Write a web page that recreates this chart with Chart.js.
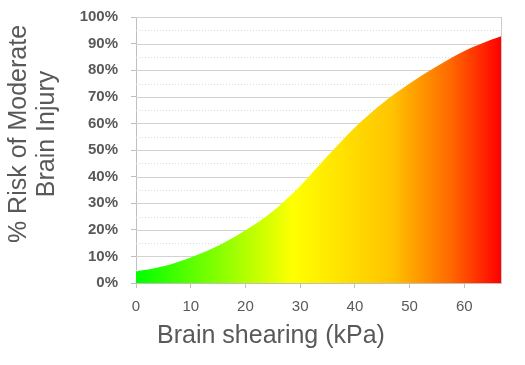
<!DOCTYPE html>
<html>
<head>
<meta charset="utf-8">
<script src="https://cdn.jsdelivr.net/npm/chart.js@4.4.0/dist/chart.umd.min.js"></script>
<style>
  html, body { margin: 0; padding: 0; background: #fff; }
  #wrap { width: 525px; height: 365px; }
</style>
</head>
<body>
<div id="wrap"><canvas id="myChart"></canvas></div>
<script>
// brain shearing (kPa) and risk of moderate brain injury (%)
let shear = [0, 5, 10, 15, 20, 25, 30, 35, 40, 45, 50, 55, 60, 65, 66.7];
let risk = [4.3, 6.3, 9.6, 14, 19.8, 27, 36.5, 47.7, 58.5, 67.5, 75, 81.5, 87.2, 91.5, 92.8];
let yTicks = [0, 10, 20, 30, 40, 50, 60, 70, 80, 90, 100];
let xTicks = [0, 10, 20, 30, 40, 50, 60];

let grey = "#595959";
let fontFamily = "'Liberation Sans', Arial, sans-serif";

let ctx = document.getElementById("myChart").getContext("2d");

// horizontal green -> yellow -> red fill
let makeGradient = (chart) => {
  let area = chart.chartArea;
  if (!area) return "#ff0";
  let g = chart.ctx.createLinearGradient(area.left, 0, area.right, 0);
  g.addColorStop(0, "#00ff00");
  g.addColorStop(0.43, "#ffff00");
  g.addColorStop(0.7, "#ffc400");
  g.addColorStop(0.86, "#ff6a00");
  g.addColorStop(1, "#ff0000");
  return g;
};

// grid lines (solid every 10%, dotted in between), frame, axis titles
let extras = {
  id: "extras",
  beforeDatasetsDraw(chart) {
    let c = chart.ctx;
    let y = chart.scales.y;
    let a = chart.chartArea;
    c.save();
    c.lineWidth = 1;
    for (let v = 5; v <= 100; v += 5) {
      let py = Math.round(y.getPixelForValue(v)) + 0.5;
      let major = v % 10 === 0;
      c.strokeStyle = major ? "#d2d2d2" : "#dddddd";
      c.setLineDash(major ? [] : [1, 2]);
      c.beginPath();
      c.moveTo(a.left, py);
      c.lineTo(a.right, py);
      c.stroke();
    }
    c.restore();
  },
  afterDraw(chart) {
    let c = chart.ctx;
    let a = chart.chartArea;
    c.save();
    c.strokeStyle = "#cccccc";
    c.lineWidth = 1;
    c.beginPath();
    c.moveTo(a.right + 0.5, a.top);
    c.lineTo(a.right + 0.5, a.bottom);
    c.stroke();

    c.fillStyle = grey;
    c.font = "25px " + fontFamily;
    c.textAlign = "center";
    c.textBaseline = "middle";
    c.fillText("Brain shearing (kPa)", 271, 336);

    c.translate(0, 134);
    c.rotate(-Math.PI / 2);
    c.fillText("% Risk of Moderate", 0, 19);
    c.fillText("Brain Injury", 0, 47);
    c.restore();
  },
};

let myChart = new Chart(ctx, {
  type: "line",
  data: {
    datasets: [
      {
        data: shear.map((x, i) => ({ x: x, y: risk[i] })),
        fill: "origin",
        backgroundColor: (context) => makeGradient(context.chart),
        borderWidth: 0,
        pointRadius: 0,
        cubicInterpolationMode: "monotone",
      },
    ],
  },
  options: {
    responsive: true,
    maintainAspectRatio: false,
    animation: false,
    layout: {
      padding: { top: 17, right: 24, left: 0, bottom: 0 },
    },
    plugins: {
      legend: { display: false },
      tooltip: { enabled: false },
    },
    scales: {
      x: {
        type: "linear",
        min: 0,
        max: 66.7,
        afterBuildTicks: (scale) => {
          scale.ticks = xTicks.map((v) => ({ value: v }));
        },
        afterFit: (scale) => {
          scale.height = 82;
          scale.paddingLeft = 0;
          scale.paddingRight = 0;
        },
        grid: {
          display: true,
          drawOnChartArea: false,
          tickLength: 5,
          tickColor: "#bfbfbf",
        },
        border: { color: "#bfbfbf" },
        ticks: {
          color: grey,
          padding: 10,
          maxRotation: 0,
          font: { family: fontFamily, size: 15 },
        },
      },
      y: {
        min: 0,
        max: 100,
        afterBuildTicks: (scale) => {
          let t = [];
          for (let v = 0; v <= 100; v += 5) t.push({ value: v });
          scale.ticks = t;
        },
        afterFit: (scale) => {
          scale.width = 136;
          scale.paddingTop = 0;
          scale.paddingBottom = 0;
        },
        grid: {
          drawOnChartArea: false,
          tickColor: "#bfbfbf",
          tickLength: 5,
        },
        border: { color: "#bfbfbf" },
        ticks: {
          color: grey,
          padding: 13,
          font: { family: fontFamily, size: 15, weight: "bold" },
          callback: (v) => (yTicks.includes(v) ? v + "%" : ""),
        },
      },
    },
  },
  plugins: [extras],
});
</script>
</body>
</html>
